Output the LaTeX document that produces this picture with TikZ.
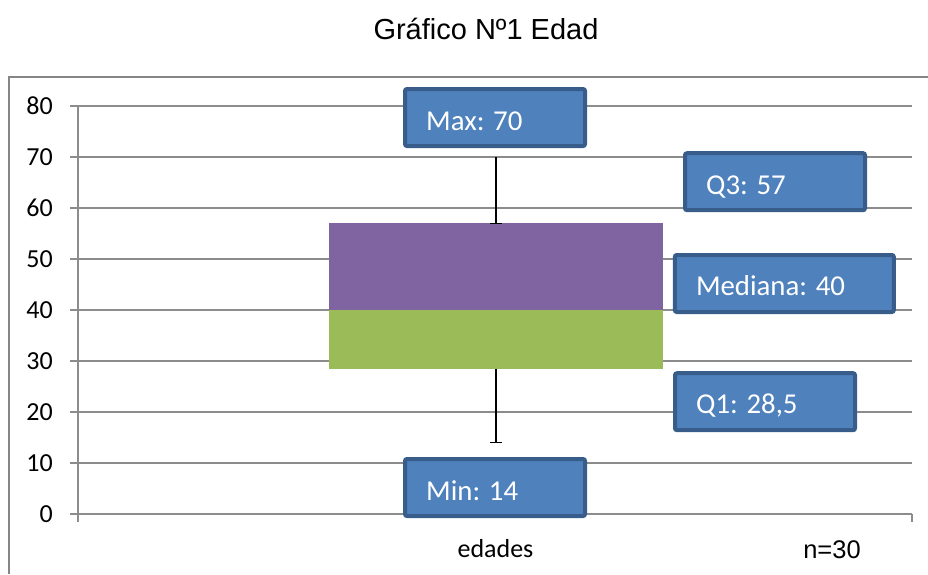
\documentclass[tikz,border=0pt]{standalone}
\usepackage{fontspec}
\setmainfont{Carlito}
\newfontfamily\arialfont{Liberation Sans}
\definecolor{gridgray}{RGB}{140,140,140}
\definecolor{framegray}{RGB}{134,134,134}
\definecolor{q3purple}{RGB}{128,100,162}
\definecolor{q1green}{RGB}{155,187,89}
\definecolor{lblfill}{RGB}{79,129,189}
\definecolor{lblborder}{RGB}{56,93,138}
\begin{document}
\begin{tikzpicture}[x=1pt,y=-1pt,
  gridline/.style={draw=gridgray, line width=1.6pt},
  frameline/.style={draw=framegray, line width=1.6pt},
  whisker/.style={draw=black, line width=1.5pt},
  lblbox/.style={draw=lblborder, fill=lblfill, line width=4pt, rounded corners=2pt,
    inner sep=0pt, minimum height=57pt},
  lbltext/.style={text=white, inner sep=0pt, font=\fontsize{28.8}{30}\selectfont, anchor=base west},
  axlabel/.style={inner sep=0pt, font=\fontsize{26}{28}\selectfont, anchor=east}]
\useasboundingbox (0,0) rectangle (928,574);
% outer frame
\draw[frameline] (9,574) -- (9,77) -- (928,77);
% title
\node[inner sep=0pt, anchor=base, font=\arialfont\fontsize{29}{31}\selectfont] (title) at (486,39.5) {Gráfico Nº1 Edad};
% grid lines and axis labels
\foreach \v in {0,10,...,80}{
  \pgfmathsetmacro{\yy}{514-5.1*\v}
  \draw[gridline] (70,\yy) -- (912,\yy);
  \node[axlabel] (y\v) at (53,\yy) {\v};
}
% axes
\draw[gridline] (78,106) -- (78,522);
\draw[gridline] (912,514) -- (912,522);
% box
\fill[q3purple] (329,223.3) rectangle (663,310);
\fill[q1green] (329,310) rectangle (663,368.65);
% whiskers
\coordinate (wtop) at (496,157);
\coordinate (wq3) at (496,223.3);
\coordinate (wq1) at (496,368.65);
\coordinate (wbot) at (496,442.6);
\draw[whisker] (wtop) -- (wq3);
\draw[whisker] (490,223.3) -- (502,223.3);
\draw[whisker] (wq1) -- (wbot);
\draw[whisker] (490,442.6) -- (502,442.6);
% labels
\node[lblbox, minimum width=180pt] (max) at (495,117.5) {};
\node[lbltext] (maxt) at ([shift={(23,12.5)}]max.west) {Max: 70};
\node[lblbox, minimum width=180pt] (q3) at (775,181.7) {};
\node[lbltext] (q3t) at ([shift={(23,12.5)}]q3.west) {Q3: 57};
\node[lblbox, minimum width=219pt] (med) at (784.3,283.5) {};
\node[lbltext] (medt) at ([shift={(23,12)}]med.west) {Mediana: 40};
\node[lblbox, minimum width=180pt] (q1) at (765,401.7) {};
\node[lbltext] (q1t) at ([shift={(23,12)}]q1.west) {Q1: 28,5};
\node[lblbox, minimum width=180pt] (min) at (495,487.5) {};
\node[lbltext] (mint) at ([shift={(23,12.5)}]min.west) {Min: 14};
% category and n
\node[inner sep=0pt, anchor=base, font=\fontsize{26}{28}\selectfont] (cat) at (495.5,557) {edades};
\node[inner sep=0pt, anchor=base, font=\arialfont\fontsize{25.5}{28}\selectfont] (n) at (832,558) {n=30};
\end{tikzpicture}
\end{document}
